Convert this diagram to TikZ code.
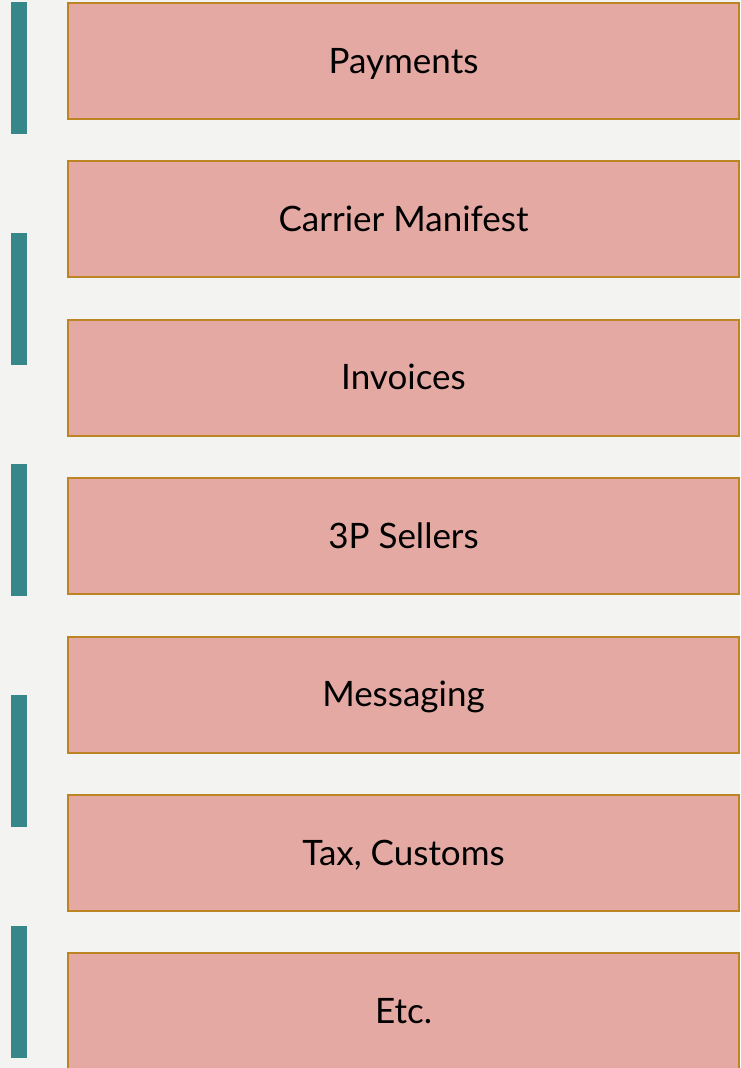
\documentclass[tikz,border=0pt]{standalone}
\usepackage{fontspec}
\setmainfont{Lato}
\usetikzlibrary{positioning}
\definecolor{pagebg}{HTML}{F3F3F1}
\definecolor{boxfill}{HTML}{E4A9A3}
\definecolor{boxedge}{HTML}{BC8423}
\definecolor{barteal}{HTML}{37868A}
\tikzset{
    block/.style = {draw=boxedge, fill=boxfill, line width=2pt, rectangle,
        minimum height=116pt,
        minimum width=671pt, align=center, text height=24pt, text depth=0pt,
        font=\fontsize{35}{42}\selectfont},
    bar/.style = {fill=barteal, rectangle, inner sep=0pt,
        minimum width=16pt, minimum height=132pt}
}

\begin{document}
\begin{tikzpicture}[x=1pt, y=1pt, node distance=158.4pt]
    \clip (0,0) rectangle (740,-1068);
    \fill[pagebg] (0,0) rectangle (740,-1068);
    % list of boxes
    \node [block] (pay) at (403.5,-61) {Payments};
    \node [block, below of=pay] (manifest) {Carrier Manifest};
    \node [block, below of=manifest] (inv) {Invoices};
    \node [block, below of=inv] (sellers) {3P Sellers};
    \node [block, below of=sellers] (msg) {Messaging};
    \node [block, below of=msg] (tax) {Tax, Customs};
    \node [block, below of=tax] (etc) {Etc.};
    % teal bars on the left
    \node [bar] (bar1) at (19,-68) {};
    \node [bar, below of=bar1, node distance=231pt] (bar2) {};
    \node [bar, below of=bar2, node distance=231pt] (bar3) {};
    \node [bar, below of=bar3, node distance=231pt] (bar4) {};
    \node [bar, below of=bar4, node distance=231pt] (bar5) {};
\end{tikzpicture}
\end{document}
